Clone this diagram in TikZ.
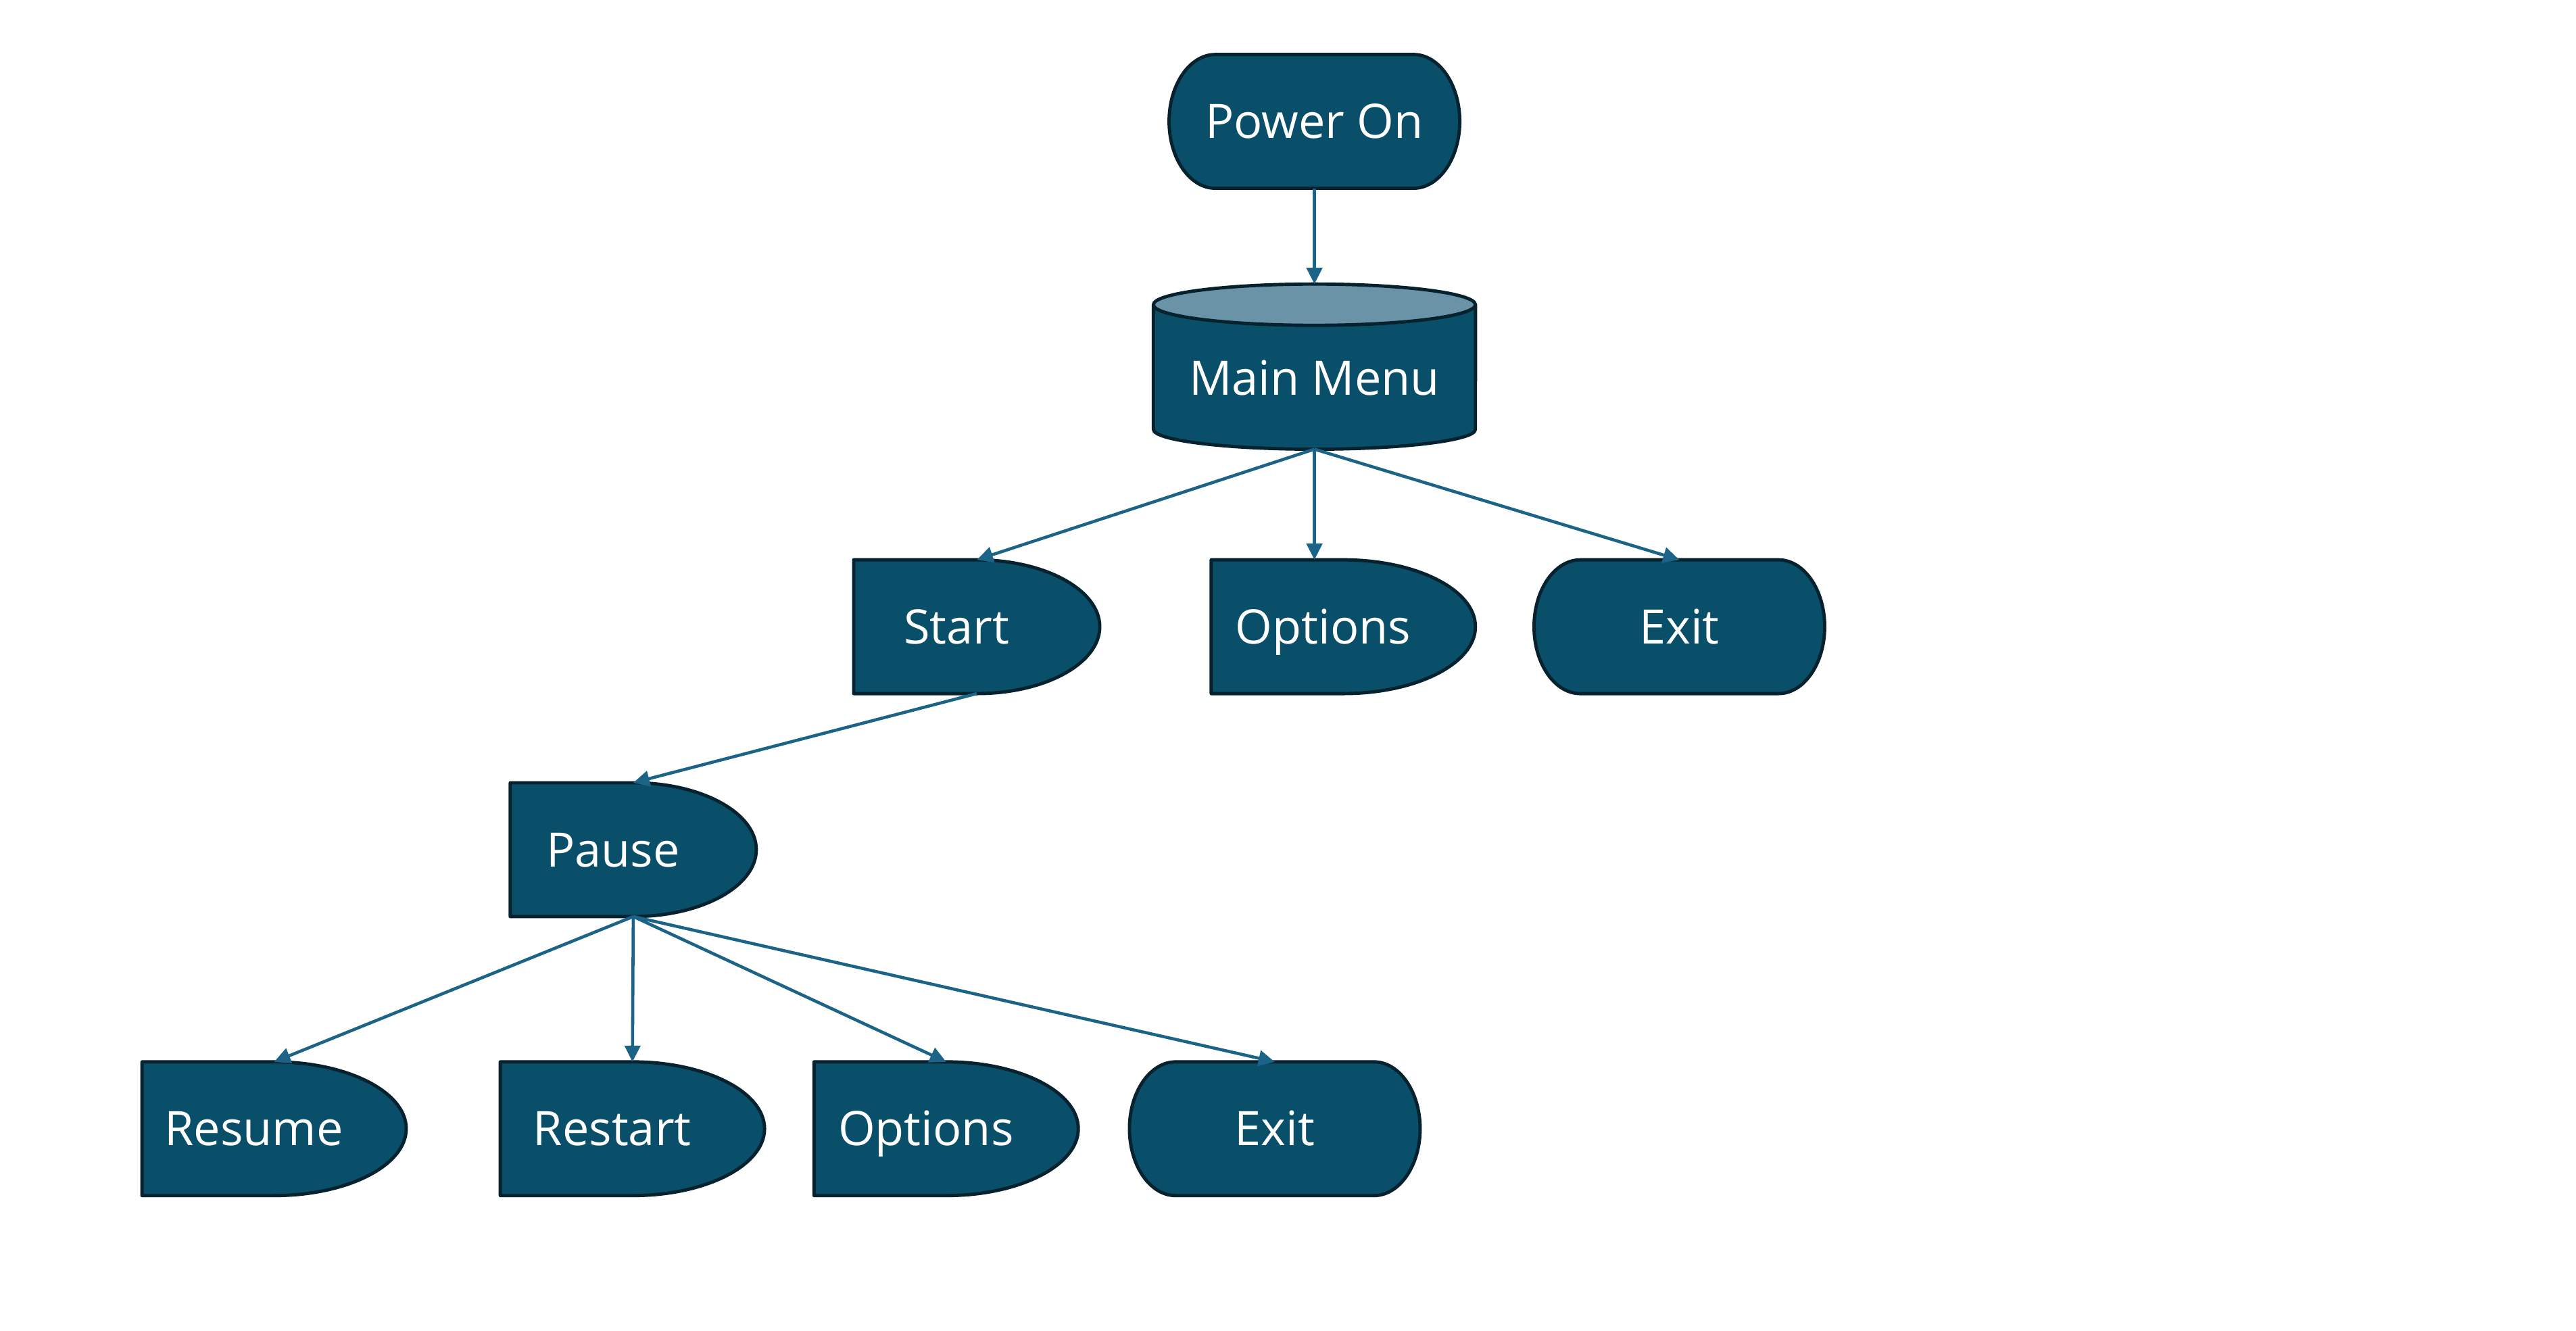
\documentclass[tikz,border=0pt]{standalone}
\usepackage{fontspec}
\setmainfont{Open Sans}
\usetikzlibrary{arrows.meta,calc,backgrounds}
\definecolor{boxfill}{HTML}{0A4F69}
\definecolor{boxline}{HTML}{06222F}
\definecolor{topfill}{HTML}{6A93A7}
\definecolor{arrowline}{HTML}{1C6487}

\begin{document}
\begin{tikzpicture}[x=0.0244295cm,y=0.0244295cm,
  main node/.style={draw=none,outer sep=0pt,inner sep=0pt,text=white,font=\fontsize{20}{24}\selectfont,text height=14.3pt,text depth=0pt,minimum height=1.979cm},
  delay node/.style={main node,execute at end node={\hspace{0.6cm}}},
  shape line/.style={draw=boxline,fill=boxfill,line width=1.4pt,line join=round},
  arrow line/.style={color=arrowline,line width=1.3pt,-{Triangle[length=0.24cm,width=0.23cm]}}]
        \useasboundingbox (0,0) rectangle (1560,-805.6);
        		%nodes
        			  \node[main node,minimum width=4.30cm] (1) at (796,-73.5) {Power On};
        			  \node[main node,minimum width=4.764cm,minimum height=2.443cm,text height=24pt] (2) at (796,-222) {Main Menu};
        			  \node[delay node,minimum width=3.64cm] (3) at (591.5,-379.5) {Start};
        			  \node[delay node,minimum width=3.909cm] (4) at (813.5,-379.5) {Options};
        			  \node[main node,minimum width=4.30cm] (5) at (1017,-379.5) {Exit};
        			  \node[delay node,minimum width=3.64cm] (6) at (383.5,-514.5) {Pause};
        			  \node[delay node,minimum width=3.909cm] (7) at (166,-683.5) {Resume};
        			  \node[delay node,minimum width=3.909cm] (8) at (383,-683.5) {Restart};
        			  \node[delay node,minimum width=3.909cm] (9) at (573,-683.5) {Options};
        			  \node[main node,minimum width=4.30cm] (10) at (772,-683.5) {Exit};
        		%Shapes
        			  \begin{scope}[on background layer]
        			    \foreach \n/\r in {3/74.5,4/80,6/74.5,7/80,8/80,9/80}
        			      \draw[shape line] (\n.north west) -- (\n.north) arc[start angle=90,end angle=-90,x radius=\r,y radius=40.5] -- (\n.south west) -- cycle;
        			    \foreach \n in {1,5,10}
        			      \draw[shape line] ($(\n.north west)+(28,0)$) -- ($(\n.north east)+(-28,0)$) arc[start angle=90,end angle=-90,x radius=28,y radius=40.5] -- ($(\n.south west)+(28,0)$) arc[start angle=270,end angle=90,x radius=28,y radius=40.5] -- cycle;
        			    \draw[shape line] ($(2.north west)+(0,-12.5)$) -- ($(2.south west)+(0,12)$) arc[start angle=180,end angle=360,x radius=97.5,y radius=12] -- ($(2.north east)+(0,-12.5)$) -- cycle;
        			    \draw[shape line,fill=topfill] ($(2.north)+(0,-12.5)$) ellipse[x radius=97.5,y radius=12.5];
        			  \end{scope}
        		%Edges
        			  \path[arrow line] (1) edge (2);
        			  \path[arrow line] (2.south) edge (3.north) edge (2.south |- 4.north) edge (5.north);
        			  \path[arrow line] (3.south) edge (6.north);
        			  \path[arrow line] (6.south) edge (7.north) edge (8.north) edge (9.north) edge (10.north);
        \end{tikzpicture}
\end{document}
